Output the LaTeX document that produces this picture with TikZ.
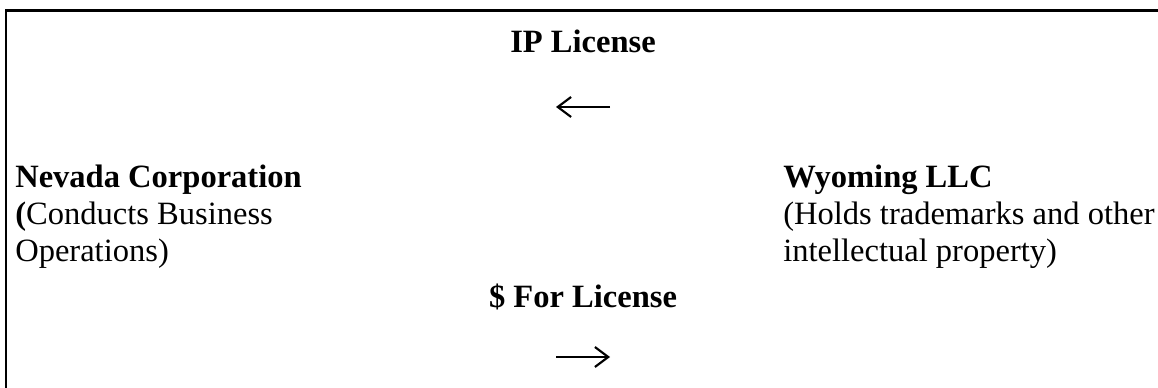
\documentclass[tikz,border=0pt]{standalone}
\usepackage{fontspec}
\setmainfont{Liberation Serif}
\usetikzlibrary{arrows.meta,positioning}

\begin{document}
\begin{tikzpicture}[x=0.75pt,y=-0.75pt,
    party/.style={anchor=base west,align=left,inner sep=0pt,
      font=\fontsize{24.4}{27.75}\selectfont},
    deal/.style={anchor=base,inner sep=0pt,
      font=\fontsize{24.4}{27.75}\selectfont\bfseries},
    flow/.style={line width=1.6pt,-{Straight Barb[length=10pt,width=15pt]}}]
    \useasboundingbox (0,0) rectangle (1158,388);
    \draw[line width=1.7pt] (6,388) -- (6,10.5) -- (1158,10.5);

    \node[deal] (ip) at (583,53) {IP License};
    \node[deal] (pay) at (583,308) {\$ For License};

    % multi-line nodes: base sits below the first line
    \node[party] (nevada) at (15,262)
      {\textbf{Nevada Corporation}\\\textbf{(}Conducts Business\\Operations)};
    \node[party] (wyoming) at (783,262)
      {\textbf{Wyoming LLC}\\(Holds trademarks and other\\intellectual property)};

    \coordinate (ipR) at (610,107);
    \coordinate (ipL) at (556,107);
    \coordinate (payL) at (556,357);
    \coordinate (payR) at (610,357);
    \draw[flow] (ipR) -- (ipL);
    \draw[flow] (payL) -- (payR);
  \end{tikzpicture}
\end{document}
